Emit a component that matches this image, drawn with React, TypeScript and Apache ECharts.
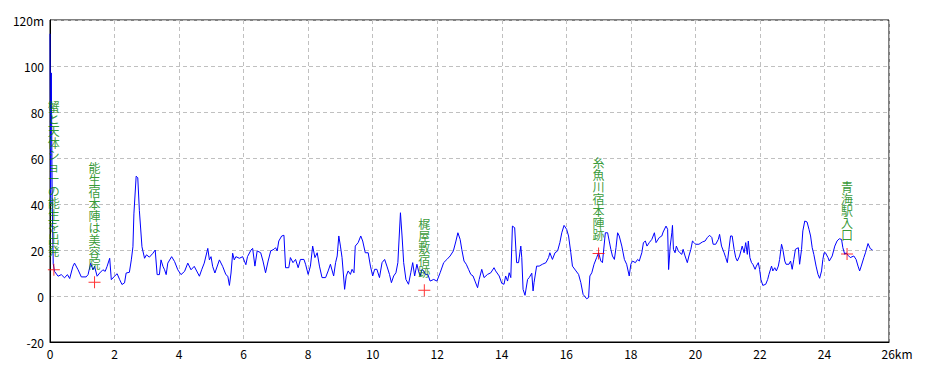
import React, { useEffect, useRef } from "react";
import * as echarts from "echarts";

// Elevation profile: [distance km, elevation m]
const profile: [number, number][] = [
  [0, 114], [0.02, 40], [0.04, 97], [0.07, 40], [0.1, 14], [0.14, 10.7], [0.25, 8.6], [0.35, 9.3], [0.45, 7.9], [0.54, 9.3],
  [0.61, 7.6], [0.71, 12.9], [0.76, 14.3], [0.87, 11.4], [0.97, 8.3], [1.12, 8.3], [1.18, 9.3], [1.26, 14.3], [1.33, 11.4], [1.38, 12.9],
  [1.46, 8.6], [1.54, 10], [1.64, 11.4], [1.71, 10.7], [1.77, 12.9], [1.85, 16.4], [1.9, 7.1], [2.0, 8.6], [2.08, 9.7], [2.16, 7.1],
  [2.23, 5.0], [2.31, 5.7], [2.36, 10], [2.46, 10.3], [2.52, 15.7], [2.57, 21.4], [2.6, 35.7], [2.67, 52.1], [2.72, 51.4], [2.77, 37.1],
  [2.85, 21.4], [2.93, 16.4], [2.99, 17.9], [3.08, 16.9], [3.19, 18.6], [3.26, 20], [3.32, 9.3], [3.39, 9.3], [3.44, 15.7], [3.5, 12.9],
  [3.55, 11.4], [3.6, 9.3], [3.65, 14.3], [3.77, 17.1], [3.86, 15], [3.96, 11.4], [4.06, 9.3], [4.17, 10.7], [4.27, 14.3], [4.37, 11.4],
  [4.47, 12.9], [4.63, 8.6], [4.7, 11.4], [4.78, 14.3], [4.89, 20.7], [4.94, 15.7], [4.99, 17.1], [5.04, 12.9], [5.11, 10], [5.25, 15.7],
  [5.35, 12.9], [5.45, 9.3], [5.51, 8.6], [5.56, 4.6], [5.61, 10], [5.66, 18.6], [5.71, 15.7], [5.76, 17.1], [5.87, 16.4], [5.97, 17.1],
  [6.07, 13.6], [6.12, 17.1], [6.23, 20], [6.28, 20.7], [6.35, 13], [6.42, 19.6], [6.53, 18.8], [6.6, 15.2], [6.68, 10.1], [6.76, 15.2],
  [6.84, 19.6], [6.94, 20.3], [6.99, 21], [7.04, 19.6], [7.09, 23.9], [7.18, 26.1], [7.25, 26.4], [7.3, 12.3], [7.4, 12.3], [7.45, 16.7],
  [7.53, 14.5], [7.61, 15.9], [7.69, 12.3], [7.76, 15.9], [7.87, 15.9], [7.92, 13.8], [8.0, 9.4], [8.07, 13], [8.14, 21.7], [8.21, 16.7],
  [8.28, 18.8], [8.35, 13], [8.43, 8], [8.54, 8], [8.62, 10.9], [8.69, 13.8], [8.79, 8.7], [8.85, 14.5], [8.9, 17.4], [8.95, 26.1],
  [9.0, 21.7], [9.05, 16.7], [9.13, 2.9], [9.18, 8.7], [9.24, 10.9], [9.31, 9.4], [9.36, 11.6], [9.42, 10.1], [9.46, 21.7], [9.55, 23.2],
  [9.63, 26.1], [9.69, 23.9], [9.77, 18.8], [9.86, 18.8], [9.93, 13], [10.0, 8.7], [10.06, 11.6], [10.13, 11.6], [10.21, 8], [10.29, 14.5],
  [10.37, 15.9], [10.44, 13], [10.52, 9.4], [10.58, 5.8], [10.65, 8.7], [10.72, 10.1], [10.78, 14.5], [10.86, 36.2], [10.91, 26.1], [10.96, 14.5],
  [11.03, 7.2], [11.11, 5.1], [11.18, 10.1], [11.24, 14.5], [11.3, 8.7], [11.37, 13.8], [11.42, 10.9], [11.47, 8.7], [11.53, 11.6], [11.58, 10.9],
  [11.63, 9.4], [11.71, 9.4], [11.78, 6.5], [11.89, 7.2], [11.99, 6.5], [12.09, 10.1], [12.2, 14.5], [12.3, 15.9], [12.4, 17.4], [12.5, 19.6],
  [12.58, 23.9], [12.64, 27.5], [12.71, 24.6], [12.76, 20.3], [12.83, 15.2], [12.9, 13.8], [12.97, 11.6], [13.04, 9.4], [13.11, 8.7], [13.17, 6.5],
  [13.25, 3.6], [13.3, 7.2], [13.38, 11.6], [13.45, 8], [13.56, 9.4], [13.66, 10.1], [13.76, 12.3], [13.81, 10.9], [13.92, 8.7], [14.0, 5.5],
  [14.07, 5.1], [14.12, 8.7], [14.18, 6.5], [14.23, 10.1], [14.28, 8], [14.33, 30.4], [14.4, 29.7], [14.46, 14.5], [14.52, 14.5], [14.59, 21.7],
  [14.62, 16.7], [14.66, 2.9], [14.72, 0.3], [14.8, 7.2], [14.85, 8], [14.93, 9.9], [14.97, 2.2], [15.0, 5.8], [15.08, 13], [15.16, 13],
  [15.26, 13.8], [15.37, 14.5], [15.45, 16.7], [15.49, 18.8], [15.57, 15.9], [15.65, 18.8], [15.73, 19.6], [15.8, 23.2], [15.86, 27.5], [15.93, 30.7],
  [16.01, 29], [16.07, 26.1], [16.14, 18.8], [16.19, 13], [16.3, 10.9], [16.38, 9.4], [16.45, 5.8], [16.52, 0.7], [16.63, -1.2], [16.69, -0.7],
  [16.73, 8.7], [16.79, 10.1], [16.86, 13.8], [16.94, 16.7], [17.0, 18.8], [17.07, 15.2], [17.12, 14.5], [17.21, 27.5], [17.28, 27.5], [17.33, 23.9],
  [17.38, 20.3], [17.43, 17.4], [17.49, 15.9], [17.54, 21], [17.59, 27.5], [17.64, 26.1], [17.72, 21.7], [17.8, 15.9], [17.87, 13.8], [17.95, 8.7],
  [18.0, 13.8], [18.05, 15.2], [18.14, 14.5], [18.21, 15.9], [18.26, 15.2], [18.34, 18.8], [18.39, 23.2], [18.45, 23.9], [18.5, 21.7], [18.57, 23.2],
  [18.65, 24.6], [18.73, 27.5], [18.78, 23.2], [18.88, 25.4], [18.96, 26.1], [19.0, 27.8], [19.09, 30.4], [19.14, 29], [19.17, 11.5], [19.22, 21.7],
  [19.27, 27.5], [19.29, 30.7], [19.32, 20.3], [19.37, 18.8], [19.41, 21.7], [19.47, 19.6], [19.52, 18.8], [19.58, 18.1], [19.62, 20.3], [19.68, 17.4],
  [19.75, 14.5], [19.8, 17.4], [19.86, 20.3], [19.91, 23.9], [19.96, 23.2], [20.01, 22.5], [20.11, 22.5], [20.22, 23.5], [20.3, 23.9], [20.37, 25.4],
  [20.44, 26.4], [20.51, 25.4], [20.55, 22.5], [20.63, 22.5], [20.71, 24.6], [20.75, 26.8], [20.81, 21.7], [20.89, 18.8], [20.94, 16.7], [20.99, 14.5],
  [21.04, 20.3], [21.09, 26.1], [21.14, 26.1], [21.2, 20.3], [21.25, 16.7], [21.3, 15.2], [21.37, 17.4], [21.45, 21.7], [21.51, 18.8], [21.56, 23.2],
  [21.61, 18.1], [21.64, 23.9], [21.69, 16.7], [21.74, 14.5], [21.78, 13.8], [21.85, 11.6], [21.89, 13], [21.95, 14.5], [21.99, 11.6], [22.03, 7.2],
  [22.09, 4.6], [22.18, 5.1], [22.24, 7.2], [22.28, 9.4], [22.36, 13], [22.4, 10.9], [22.46, 12.3], [22.51, 10.9], [22.57, 13], [22.61, 15.9],
  [22.67, 22.5], [22.71, 20.3], [22.77, 15.2], [22.81, 13.8], [22.9, 13.8], [22.95, 15.2], [23.0, 11.6], [23.05, 15.9], [23.1, 20.3], [23.19, 21],
  [23.23, 13.8], [23.29, 20.3], [23.33, 28.3], [23.39, 32.6], [23.46, 32.2], [23.52, 29], [23.57, 26.1], [23.62, 21], [23.67, 18.1], [23.74, 13],
  [23.8, 9.4], [23.85, 7.7], [23.91, 10.9], [23.95, 15.9], [23.99, 18.8], [24.03, 18.8], [24.11, 16.7], [24.15, 15.2], [24.24, 17.4], [24.32, 21.7],
  [24.39, 23.9], [24.46, 24.9], [24.53, 24.6], [24.57, 21], [24.63, 18.1], [24.67, 18.8], [24.73, 17.7], [24.8, 16.7], [24.91, 17.4], [24.98, 15.9],
  [25.04, 13], [25.09, 10.9], [25.14, 13], [25.22, 16.7], [25.27, 18.8], [25.35, 22.8], [25.42, 20.6], [25.49, 20],
];

// Waypoints
const stopNames = [
  "蟹と天体ショーの能生を出発",
  "能生宿本陣は美容院",
  "梶屋敷宿跡",
  "糸魚川宿本陣跡",
  "青海駅入口",
];
const stopKm = [0.12, 1.38, 11.6, 17.0, 24.7];
const stopElevation = [11.4, 6, 2.5, 18.5, 18.3];

// Axes
const xMin = 0, xMax = 26, xStep = 2;
const yMin = -20, yMax = 120, yStep = 20;

const FONT = "'Noto Sans CJK JP', 'Noto Sans', sans-serif";

export default function App() {
  const ref = useRef<HTMLDivElement>(null);
  useEffect(() => {
    if (!ref.current) return;
    const chart = echarts.init(ref.current, null, { renderer: "svg" });
    const stops = stopNames.map((n, i) => ({ name: n, value: [stopKm[i], stopElevation[i]] }));
    chart.setOption({
      animation: false,
      backgroundColor: "#ffffff",
      grid: { left: 50, top: 20, right: 41, bottom: 30, show: true, borderColor: "#000", borderWidth: 1, backgroundColor: "transparent" },
      xAxis: {
        type: "value", min: xMin, max: xMax, interval: xStep,
        axisLine: { show: true, onZero: false, lineStyle: { color: "#000", width: 1 } },
        axisTick: { show: false },
        splitLine: { show: true, lineStyle: { color: "#c0c0c0", type: [4, 3], width: 1 } },
        axisLabel: {
          color: "#000", fontSize: 12, fontFamily: FONT, margin: 5,
          formatter: (v: number) => (v === xMax ? "{k|" + v + "km}" : String(v)),
          rich: { k: { color: "#000", fontSize: 12, fontFamily: FONT, padding: [0, 0, 0, 16] } },
        },
      },
      yAxis: {
        type: "value", min: yMin, max: yMax, interval: yStep,
        axisLine: { show: true, onZero: false, lineStyle: { color: "#000", width: 1 } },
        axisTick: { show: false },
        splitLine: { show: true, lineStyle: { color: "#c0c0c0", type: [4, 3], width: 1 } },
        axisLabel: {
          color: "#000", fontSize: 12, fontFamily: FONT, margin: 6,
          formatter: (v: number) => (v === yMax ? v + "m" : String(v)),
        },
      },
      series: [
        {
          type: "line",
          data: profile,
          showSymbol: false,
          symbol: "none",
          lineStyle: { color: "#0000ff", width: 1 },
          z: 2,
        },
        {
          type: "scatter",
          data: stops,
          symbol: "path://M0,5.5h12v1h-12z M5.5,0h1v12h-1z",
          symbolSize: 12,
          itemStyle: { color: "#ff0000" },
          z: 3,
          label: {
            show: true,
            position: "top",
            distance: 7,
            color: "#008000",
            fontSize: 12,
            lineHeight: 12,
            fontFamily: FONT,
            textBorderWidth: 0,
            textBorderColor: "transparent",
            formatter: (p: any) => String(p.name).split("").join("\n"),
          },
        },
      ],
    });
    return () => chart.dispose();
  }, []);
  return (
    <div
      ref={ref}
      style={{ position: "fixed", left: 0, top: 0, width: 930, height: 372, background: "#fff" }}
    />
  );
}
